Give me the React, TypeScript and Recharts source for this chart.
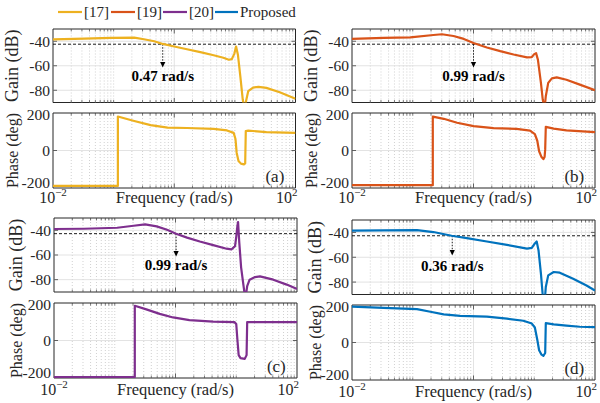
import React from 'react';
import { LineChart, Line, XAxis, YAxis, ReferenceLine, ReferenceArea, ReferenceDot } from 'recharts';

const W = 600;
const H = 403;
const FONT = '"Liberation Serif", serif';
const INK = '#262626';

// Series colours
const C17 = '#EDB120';
const C19 = '#D95319';
const C20 = '#7E2F8E';
const CP = '#0072BD';

// Axis ticks / domains (x axis is log10 of frequency in rad/s)
const gainTicks = [-80, -60, -40];
const phaseTicks = [-200, 0, 200];
const freqLabelTicks = [-2, 2];
const gainDomain: [number, number] = [-90, -30];
const phaseDomain: [number, number] = [-200, 200];
const legendLabels = ['[17]', '[19]', '[20]', 'Proposed'];
const panelLetters = ['(a)', '(b)', '(c)', '(d)'];

// (a) [17]
const aGainF = [-2, -1.48, -1.04, -0.66, -0.5, -0.33, -0.19, 0, 0.21, 0.43, 0.65, 0.81, 0.9, 0.95, 0.99, 1.02, 1.05, 1.09, 1.13, 1.16, 1.19, 1.22, 1.3, 1.39, 1.52, 1.74, 2];
const aGainDb = [-38.4, -37.8, -37.3, -37.0, -38.4, -40.0, -42.2, -44.3, -46.5, -48.9, -51.4, -53.5, -55.1, -54.6, -50.3, -44.3, -51, -68.6, -87.6, -95, -87.6, -80.8, -77.8, -77.3, -78.1, -81.6, -87.0];
const aPhaseF = [-2, -0.93, -0.93, -0.66, -0.39, -0.11, 0.21, 0.65, 0.87, 0.98, 1.01, 1.03, 1.06, 1.1, 1.15, 1.17, 1.18, 1.22, 1.52, 2];
const aPhaseDeg = [-189, -189, 181, 157, 135, 122, 120, 115, 107, 94, 61, -13, -56, -70, -74, -69, 104, 106, 98, 94];

// (b) [19]
const bGainF = [-2, -1.48, -1.04, -0.66, -0.52, -0.33, -0.16, 0, 0.22, 0.44, 0.66, 0.88, 0.96, 1.0, 1.03, 1.06, 1.11, 1.14, 1.17, 1.19, 1.23, 1.29, 1.37, 1.53, 1.75, 2];
const bGainDb = [-38.1, -37.3, -36.8, -34.9, -34.3, -35.7, -38.1, -41.4, -45.1, -48.1, -50.8, -53.2, -52.9, -50.5, -49.7, -55, -74, -87.6, -95, -84.9, -74, -70.3, -69.5, -71.4, -75.4, -80];
const bPhaseF = [-2, -0.67, -0.67, -0.49, -0.27, 0, 0.33, 0.71, 0.93, 1.01, 1.05, 1.08, 1.12, 1.15, 1.17, 1.18, 1.19, 1.32, 1.53, 2];
const bPhaseDeg = [-185, -185, 181, 169, 148, 130, 119, 115, 106, 87, 52, -4, -35, -46, -35, 6, 126, 117, 107, 98];

// (c) [20]
const cGainF = [-2, -1.51, -0.96, -0.69, -0.5, -0.31, -0.14, 0.01, 0.19, 0.4, 0.62, 0.84, 0.92, 0.98, 1.0, 1.02, 1.03, 1.05, 1.08, 1.12, 1.15, 1.18, 1.22, 1.31, 1.39, 1.61, 1.83, 2];
const cGainDb = [-38.9, -38.7, -37.9, -36.3, -35.2, -36.8, -39.5, -42.7, -45.9, -49.1, -52, -54.9, -55.5, -52.8, -45.3, -36, -33.3, -50, -70, -85, -96, -85.3, -80, -77.9, -77.3, -80, -84, -87.5];
const cPhaseF = [-2, -0.67, -0.67, -0.48, -0.26, -0.04, 0.23, 0.62, 0.97, 1.0, 1.02, 1.04, 1.07, 1.14, 1.17, 1.18, 1.5, 2];
const cPhaseDeg = [-195, -195, 185, 166, 142, 123, 109, 101, 98, 88, 0, -78, -94, -98, -78, 98, 98, 98];

// (d) Proposed
const dGainF = [-2, -1.48, -0.93, -0.66, -0.36, -0.11, 0.22, 0.55, 0.88, 0.96, 1.01, 1.04, 1.07, 1.11, 1.14, 1.17, 1.19, 1.23, 1.32, 1.42, 1.64, 1.86, 2];
const dGainDb = [-38.6, -38.4, -38.1, -39.7, -42.7, -44.6, -47.3, -50, -53, -52.4, -48.9, -47.3, -54.3, -73.2, -90.8, -97, -84, -74.6, -71.9, -72.4, -77.3, -82.7, -86.8];
const dPhaseF = [-2, -1.48, -0.93, -0.71, -0.49, -0.22, 0.22, 0.55, 0.82, 0.96, 1.01, 1.05, 1.08, 1.12, 1.15, 1.18, 1.19, 1.32, 1.53, 1.75, 2];
const dPhaseDeg = [191, 185, 178, 164, 150, 142, 138, 127, 116, 101, 80, 15, -41, -65, -71, -56, 103, 97, 90, 84, 82];

// Bandwidth markers
const cutLevelDb = [-42.4, -42.4, -42.7, -42.7];
const cutFreqLog = [-0.19, 0.0, 0.01, -0.35];
const cutArrowTipDb = [-61.5, -61.5, -61.3, -58.5];
const cutText = ['0.47 rad/s', '0.99 rad/s', '0.99 rad/s', '0.36 rad/s'];
const cutTextDb = [-68, -68, -68, -66.5];

type Cfg = { x0: number; x1: number; gTop: number; gBot: number; pTop: number; pBot: number; base: number; yl: number };

const layout: Cfg[] = [
  { x0: 53, x1: 295.5, gTop: 29, gBot: 102.5, pTop: 113, pBot: 188, base: 203, yl: 12 },
  { x0: 352, x1: 595, gTop: 29, gBot: 102.5, pTop: 113, pBot: 188, base: 203, yl: 311 },
  { x0: 54, x1: 297, gTop: 218, gBot: 292, pTop: 303, pBot: 378, base: 395, yl: 16 },
  { x0: 352, x1: 595, gTop: 220, gBot: 294.5, pTop: 305, pBot: 380, base: 397, yl: 315 },
];

const minorX: number[] = [];
for (let d = -2; d < 2; d++) {
  for (let k = 2; k <= 9; k++) minorX.push(d + Math.log10(k));
}
minorX.push(-1, 1);

const chartStyle: React.CSSProperties = { position: 'absolute', left: 0, top: 0 };

function decorations(dom: [number, number], yMajors: number[], pxPerUnit: number) {
  const [lo, hi] = dom;
  const t = 2.5 / pxPerUnit; // minor tick length in data units
  const tx = 4 * (4 / 242);
  const els: React.ReactNode[] = [];
  minorX.forEach((p, i) => {
    els.push(<ReferenceLine key={'g' + i} x={p} stroke="#bdbdbd" strokeWidth={0.7} strokeDasharray="1 2" />);
  });
  els.push(<ReferenceLine key="gx0" x={0} stroke="#dcdcdc" strokeWidth={0.8} />);
  yMajors.forEach((y, i) => {
    if (y > lo && y < hi) els.push(<ReferenceLine key={'gy' + i} y={y} stroke="#dcdcdc" strokeWidth={0.8} />);
  });
  minorX.forEach((p, i) => {
    els.push(<ReferenceLine key={'tb' + i} segment={[{ x: p, y: lo }, { x: p, y: lo + t }]} stroke={INK} strokeWidth={0.6} />);
    els.push(<ReferenceLine key={'tt' + i} segment={[{ x: p, y: hi }, { x: p, y: hi - t }]} stroke={INK} strokeWidth={0.6} />);
  });
  els.push(<ReferenceLine key="tb0" segment={[{ x: 0, y: lo }, { x: 0, y: lo + 1.8 * t }]} stroke={INK} strokeWidth={0.7} />);
  els.push(<ReferenceLine key="tt0" segment={[{ x: 0, y: hi }, { x: 0, y: hi - 1.8 * t }]} stroke={INK} strokeWidth={0.7} />);
  yMajors.forEach((y, i) => {
    if (y > lo && y < hi) {
      els.push(<ReferenceLine key={'tl' + i} segment={[{ x: -2, y }, { x: -2 + tx, y }]} stroke={INK} strokeWidth={0.7} />);
      els.push(<ReferenceLine key={'tr' + i} segment={[{ x: 2, y }, { x: 2 - tx, y }]} stroke={INK} strokeWidth={0.7} />);
    }
  });
  return els;
}

const yTick = (props: any) => {
  const { x, y, payload } = props;
  const v = payload.value as number;
  const shift = v === 200 ? 2 : v === -200 ? -5 : 0;
  return (
    <text x={x} y={y + shift} dy="0.35em" textAnchor="end" fontFamily={FONT} fontSize={15.5} fill={INK}>
      {String(v)}
    </text>
  );
};

function GainPlot({ i, color, f, v }: { i: number; color: string; f: number[]; v: number[] }) {
  const cfg = layout[i];
  const data = f.map((x, k) => ({ x, v: v[k] }));
  const pxPerDb = (cfg.gBot - cfg.gTop) / 60;
  const fx = cutFreqLog[i];
  return (
    <LineChart
      width={W}
      height={H}
      data={data}
      style={chartStyle}
      margin={{ top: cfg.gTop, bottom: H - cfg.gBot, left: cfg.x0 - 40, right: W - cfg.x1 }}
    >
      <XAxis type="number" dataKey="x" domain={[-2, 2]} allowDataOverflow hide />
      <YAxis
        type="number"
        domain={gainDomain}
        allowDataOverflow
        ticks={gainTicks}
        interval={0}
        width={40}
        axisLine={false}
        tickLine={false}
        tickSize={0}
        tickMargin={3}
        tick={yTick}
      />
      {decorations(gainDomain, gainTicks, pxPerDb)}
      <ReferenceArea x1={-2} x2={2} y1={gainDomain[0]} y2={gainDomain[1]} fill="none" fillOpacity={0} stroke={INK} strokeWidth={1} />
      <ReferenceLine y={cutLevelDb[i]} stroke="#000" strokeWidth={0.9} strokeDasharray="3 2" />
      <ReferenceLine
        segment={[{ x: fx, y: cutLevelDb[i] }, { x: fx, y: cutArrowTipDb[i] + 3 }]}
        stroke="#000"
        strokeWidth={0.9}
        strokeDasharray="1.5 1.5"
      />
      <Line type="linear" dataKey="v" stroke={color} strokeWidth={2.2} dot={false} isAnimationActive={false} strokeLinejoin="round" />
      <ReferenceDot
        x={fx}
        y={cutArrowTipDb[i]}
        r={3}
        shape={(p: any) => (
          <path d={`M${p.cx - 2.6},${p.cy - 5.5}L${p.cx + 2.6},${p.cy - 5.5}L${p.cx},${p.cy}Z`} fill="#000" />
        )}
      />
      <ReferenceDot
        x={fx}
        y={cutTextDb[i]}
        r={1}
        shape={(p: any) => (
          <text x={p.cx} y={p.cy} dy="0.35em" textAnchor="middle" fontFamily={FONT} fontWeight="bold" fontSize={15} fill="#000">
            {cutText[i]}
          </text>
        )}
      />
    </LineChart>
  );
}

function PhasePlot({ i, color, f, v }: { i: number; color: string; f: number[]; v: number[] }) {
  const cfg = layout[i];
  const data = f.map((x, k) => ({ x, v: v[k] }));
  const pxPerDeg = (cfg.pBot - cfg.pTop) / 400;
  const xTick = (props: any) => {
    const { x, payload } = props;
    const val = payload.value as number;
    const exp = val < 0 ? '\u2212' + Math.abs(val) : String(val);
    return (
      <text x={val > 0 ? x + 2 : x} y={cfg.base} textAnchor={val > 0 ? 'end' : 'middle'} fontFamily={FONT} fontSize={16} fill={INK}>
        10
        <tspan dy={-7} fontSize={11}>
          {exp}
        </tspan>
      </text>
    );
  };
  return (
    <LineChart
      width={W}
      height={H}
      data={data}
      style={chartStyle}
      margin={{ top: cfg.pTop, bottom: H - cfg.pBot - 20, left: cfg.x0 - 40, right: W - cfg.x1 }}
    >
      <XAxis
        type="number"
        dataKey="x"
        domain={[-2, 2]}
        allowDataOverflow
        ticks={freqLabelTicks}
        interval={0}
        height={20}
        axisLine={false}
        tickLine={false}
        tick={xTick}
      />
      <YAxis
        type="number"
        domain={phaseDomain}
        allowDataOverflow
        ticks={phaseTicks}
        interval={0}
        width={40}
        axisLine={false}
        tickLine={false}
        tickSize={0}
        tickMargin={3}
        tick={yTick}
      />
      {decorations(phaseDomain, phaseTicks, pxPerDeg)}
      <ReferenceArea x1={-2} x2={2} y1={phaseDomain[0]} y2={phaseDomain[1]} fill="none" fillOpacity={0} stroke={INK} strokeWidth={1} />
      <Line type="linear" dataKey="v" stroke={color} strokeWidth={2.2} dot={false} isAnimationActive={false} strokeLinejoin="round" />
      <ReferenceDot
        x={1.66}
        y={-135}
        r={1}
        shape={(p: any) => (
          <text x={p.cx} y={p.cy} dy="0.35em" textAnchor="middle" fontFamily={FONT} fontSize={17} fill={INK}>
            {panelLetters[i]}
          </text>
        )}
      />
    </LineChart>
  );
}

function Overlay() {
  const legendColors = [C17, C19, C20, CP];
  const legendLines = [
    [58, 82],
    [111, 135],
    [163, 187],
    [215, 238],
  ];
  return (
    <svg width={W} height={H} style={{ position: 'absolute', left: 0, top: 0, pointerEvents: 'none' }}>
      {legendLabels.map((t, k) => (
        <g key={t}>
          <line x1={legendLines[k][0]} x2={legendLines[k][1]} y1={12} y2={12} stroke={legendColors[k]} strokeWidth={2.2} />
          <text x={legendLines[k][1] + 2} y={16.5} fontFamily={FONT} fontSize={15} fill={INK}>
            {t}
          </text>
        </g>
      ))}
      {layout.map((c, k) => {
        const gy = (c.gTop + c.gBot) / 2;
        const py = (c.pTop + c.pBot) / 2;
        return (
          <g key={k}>
            <text x={c.yl} y={gy} transform={`rotate(-90 ${c.yl} ${gy})`} textAnchor="middle" dominantBaseline="central" fontFamily={FONT} fontSize={18} fill={INK}>
              Gain (dB)
            </text>
            <text x={c.yl} y={py} transform={`rotate(-90 ${c.yl} ${py})`} textAnchor="middle" dominantBaseline="central" fontFamily={FONT} fontSize={16} fill={INK}>
              Phase (deg)
            </text>
            <text x={(c.x0 + c.x1) / 2} y={c.base} textAnchor="middle" fontFamily={FONT} fontSize={16.5} fill={INK}>
              Frequency (rad/s)
            </text>
          </g>
        );
      })}
    </svg>
  );
}

export default function App() {
  return (
    <div style={{ position: 'absolute', left: 0, top: 0, width: W, height: H, background: '#fff', overflow: 'hidden' }}>
      <GainPlot i={0} color={C17} f={aGainF} v={aGainDb} />
      <PhasePlot i={0} color={C17} f={aPhaseF} v={aPhaseDeg} />
      <GainPlot i={1} color={C19} f={bGainF} v={bGainDb} />
      <PhasePlot i={1} color={C19} f={bPhaseF} v={bPhaseDeg} />
      <GainPlot i={2} color={C20} f={cGainF} v={cGainDb} />
      <PhasePlot i={2} color={C20} f={cPhaseF} v={cPhaseDeg} />
      <GainPlot i={3} color={CP} f={dGainF} v={dGainDb} />
      <PhasePlot i={3} color={CP} f={dPhaseF} v={dPhaseDeg} />
      <Overlay />
    </div>
  );
}
